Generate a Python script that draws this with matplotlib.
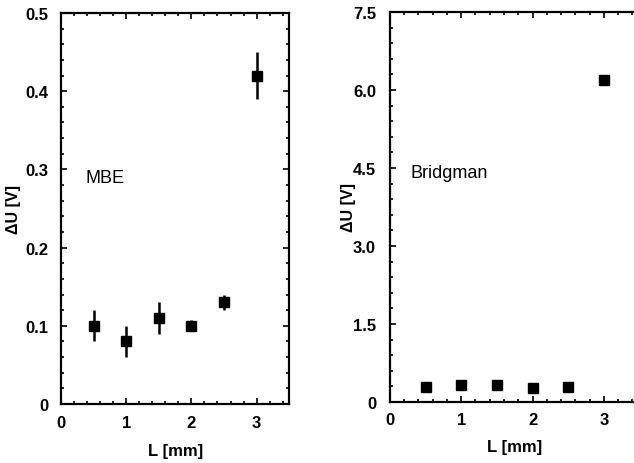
import numpy as np
import matplotlib.pyplot as plt
from matplotlib.ticker import AutoMinorLocator

plt.rcParams['font.family'] = ['Liberation Sans', 'DejaVu Sans']

# data
L = [0.5, 1.0, 1.5, 2.0, 2.5, 3.0]
du_mbe = [0.10, 0.08, 0.11, 0.10, 0.13, 0.42]
err_mbe = [0.02, 0.02, 0.02, 0.007, 0.01, 0.03]
du_bridgman = [0.29, 0.33, 0.33, 0.27, 0.29, 6.2]

mbe_yticks = [0, 0.1, 0.2, 0.3, 0.4, 0.5]
mbe_ylabels = ['0', '0.1', '0.2', '0.3', '0.4', '0.5']
br_yticks = [0, 1.5, 3.0, 4.5, 6.0, 7.5]
br_ylabels = ['0', '1.5', '3.0', '4.5', '6.0', '7.5']
xticks = [0, 1, 2, 3]


def style(ax, yticks, ylabels, ypad, xpad):
    ax.set_xticks(xticks)
    ax.set_xticklabels([str(t) for t in xticks])
    ax.set_yticks(yticks)
    ax.set_yticklabels(ylabels)
    ax.xaxis.set_minor_locator(AutoMinorLocator(5))
    ax.yaxis.set_minor_locator(AutoMinorLocator(5))
    ax.tick_params(which='both', direction='in', top=True, right=True,
                   width=1.2)
    ax.tick_params(which='major', length=4, labelsize=12)
    ax.tick_params(axis='y', which='major', pad=ypad)
    ax.tick_params(axis='x', which='major', pad=xpad)
    ax.tick_params(which='minor', length=2)
    for lab in ax.get_xticklabels() + ax.get_yticklabels():
        lab.set_fontweight('bold')
    for s in ax.spines.values():
        s.set_linewidth(1.6)
    ax.set_xlabel('L [mm]', fontsize=12, fontweight='bold', labelpad=9)


fig = plt.figure(figsize=(6.34, 4.64), dpi=100)

ax1 = fig.add_axes([0.0962, 0.127, 0.36, 0.843])
ax1.errorbar(L, du_mbe, yerr=err_mbe, fmt='s', color='black', ms=7,
             elinewidth=1.8, capsize=0)
ax1.set_xlim(0, 3.5)
ax1.set_ylim(0, 0.5)
style(ax1, mbe_yticks, mbe_ylabels, 9, 8)
ax1.set_ylabel('ΔU [V]', fontsize=11.5, fontweight='bold')
ax1.yaxis.set_label_coords(-0.175, 0.5)
ax1.text(0.38, 0.29, 'MBE', fontsize=13, va='center', ha='left')

ax2 = fig.add_axes([0.615, 0.1315, 0.3937, 0.8405])
ax2.plot(L, du_bridgman, 's', color='black', ms=7.5)
ax2.set_xlim(0, 3.5)
ax2.set_ylim(0, 7.5)
style(ax2, br_yticks, br_ylabels, 10, 7)
ax2.set_ylabel('ΔU [V]', fontsize=11.5, fontweight='bold')
ax2.yaxis.set_label_coords(-0.135, 0.5)
ax2.text(0.29, 4.42, 'Bridgman', fontsize=13, va='center', ha='left')

fig.savefig('out.png', dpi=100)
